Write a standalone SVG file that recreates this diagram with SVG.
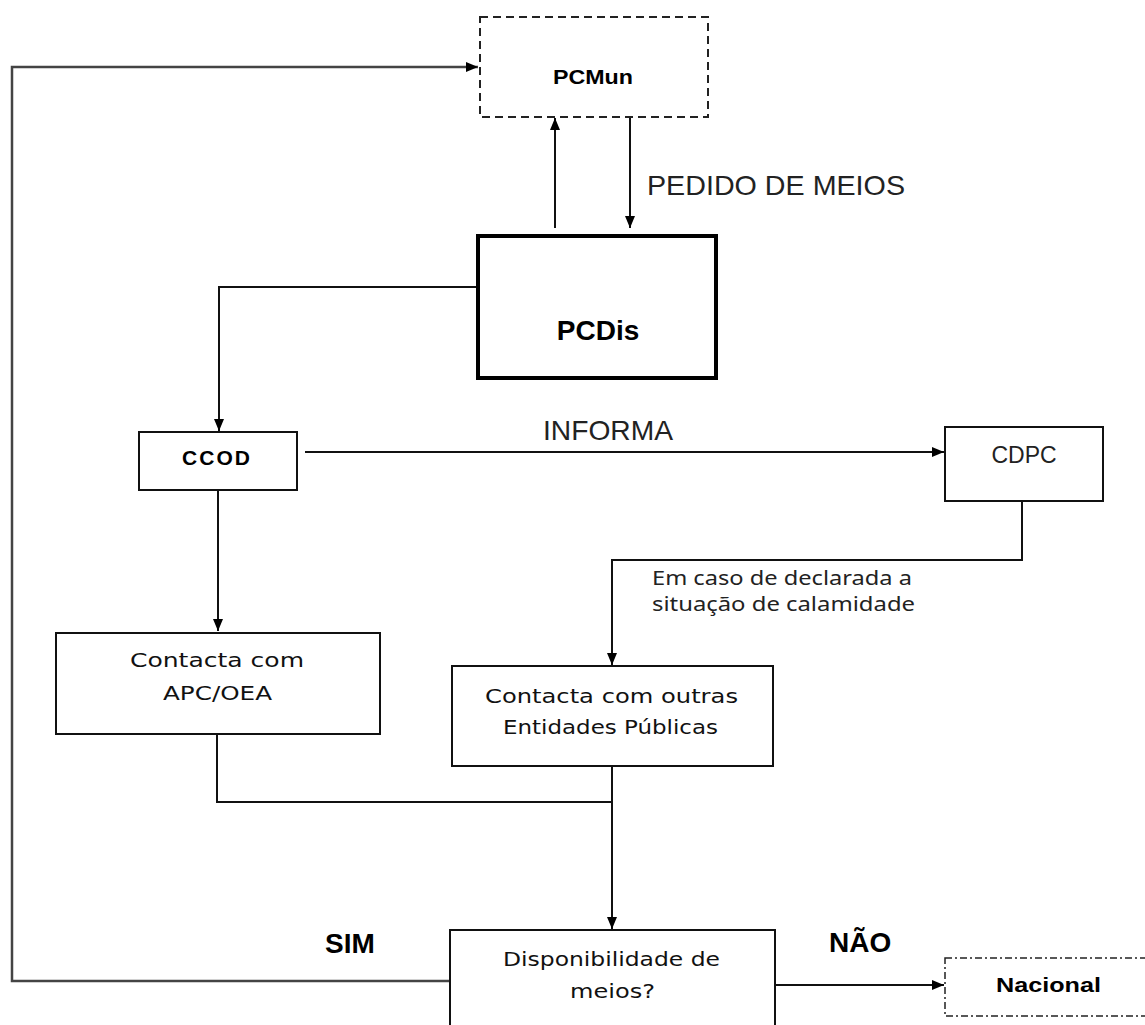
<svg xmlns="http://www.w3.org/2000/svg" width="1145" height="1025" viewBox="0 0 1145 1025">
<defs>
<marker id="ah" viewBox="0 0 12 10" refX="12" refY="5" markerWidth="12" markerHeight="10" markerUnits="userSpaceOnUse" orient="auto">
<path d="M0,0 L12,5 L0,10 Z" fill="#000"/>
</marker>
<style>
.box{fill:#fff;stroke:#111;stroke-width:2}
.dash{fill:#fff;stroke:#222;stroke-width:2;stroke-dasharray:8,5}
.dashdot{fill:#fff;stroke:#222;stroke-width:1.5;stroke-dasharray:7,3,2,3}
.thick{fill:#fff;stroke:#000;stroke-width:4}
.con{fill:none;stroke:#111;stroke-width:2}
.loop{fill:none;stroke:#444;stroke-width:2.5}
.arr{marker-end:url(#ah)}
.bold{font-family:"Liberation Sans",Arial,sans-serif;font-weight:bold;fill:#000}
.reg{font-family:"Liberation Sans",Arial,sans-serif;fill:#222}
.goth{font-family:"DejaVu Sans","Liberation Sans",sans-serif;fill:#111}
.note{font-family:"Noto Sans","Open Sans",sans-serif;fill:#222}
</style>
</defs>
<rect width="1145" height="1025" fill="#fff"/>
<g id="connectors">
<path class="loop arr" d="M450,981 H12 V67 H478"/>
<path class="con arr" d="M555,228 V118"/>
<path class="con arr" d="M630,117 V228"/>
<path class="con arr" d="M476,287 H219 V431"/>
<path class="con arr" d="M305,452 H944"/>
<path class="con arr" d="M1022,501 V560 H612 V665"/>
<path class="con arr" d="M218,490 V631"/>
<path class="con" d="M217,734 V802 H612"/>
<path class="con arr" d="M612,766 V929"/>
<path class="con arr" d="M775,985 H944"/>
</g>
<g id="labels">
<text class="reg" x="647" y="195" font-size="28" textLength="258" lengthAdjust="spacingAndGlyphs">PEDIDO DE MEIOS</text>
<text class="reg" x="543" y="440" font-size="28" textLength="130" lengthAdjust="spacingAndGlyphs">INFORMA</text>
<text class="note" x="652" y="585" font-size="20" textLength="260" lengthAdjust="spacingAndGlyphs">Em caso de declarada a</text>
<text class="note" x="652" y="611" font-size="20" textLength="263" lengthAdjust="spacingAndGlyphs">situação de calamidade</text>
<text class="bold" x="325" y="953" font-size="28">SIM</text>
<text class="bold" x="829" y="952" font-size="28">NÃO</text>
</g>
<g id="PCMun">
<rect class="dash" x="480" y="17" width="228" height="100"/>
<text class="bold" x="553" y="84" font-size="20" textLength="80" lengthAdjust="spacingAndGlyphs">PCMun</text>
</g>
<g id="PCDis">
<rect class="thick" x="478" y="236" width="238" height="142"/>
<text class="bold" x="598" y="340" font-size="28" text-anchor="middle">PCDis</text>
</g>
<g id="CCOD">
<rect class="box" x="139" y="432" width="158" height="58"/>
<text class="bold" x="217" y="465" font-size="21" text-anchor="middle" letter-spacing="2">CCOD</text>
</g>
<g id="CDPC">
<rect class="box" x="945" y="427" width="158" height="74"/>
<text class="reg" x="1024" y="463" font-size="23" text-anchor="middle">CDPC</text>
</g>
<g id="APC">
<rect class="box" x="56" y="633" width="324" height="101"/>
<text class="goth" x="130" y="667" font-size="20" textLength="174" lengthAdjust="spacingAndGlyphs">Contacta com</text>
<text class="goth" x="163" y="700" font-size="20" textLength="109" lengthAdjust="spacingAndGlyphs">APC/OEA</text>
</g>
<g id="Outras">
<rect class="box" x="452" y="666" width="321" height="100"/>
<text class="goth" x="485" y="703" font-size="20" textLength="253" lengthAdjust="spacingAndGlyphs">Contacta com outras</text>
<text class="goth" x="503" y="734" font-size="20" textLength="215" lengthAdjust="spacingAndGlyphs">Entidades Públicas</text>
</g>
<g id="Disponibilidade">
<rect class="box" x="450" y="930" width="325" height="120"/>
<text class="goth" x="503" y="966" font-size="20" textLength="217" lengthAdjust="spacingAndGlyphs">Disponibilidade de</text>
<text class="goth" x="570" y="998" font-size="20" textLength="85" lengthAdjust="spacingAndGlyphs">meios?</text>
</g>
<g id="Nacional">
<rect class="dashdot" x="945" y="958" width="215" height="58"/>
<text class="bold" x="996" y="992" font-size="21" textLength="105" lengthAdjust="spacingAndGlyphs">Nacional</text>
</g>
</svg>
